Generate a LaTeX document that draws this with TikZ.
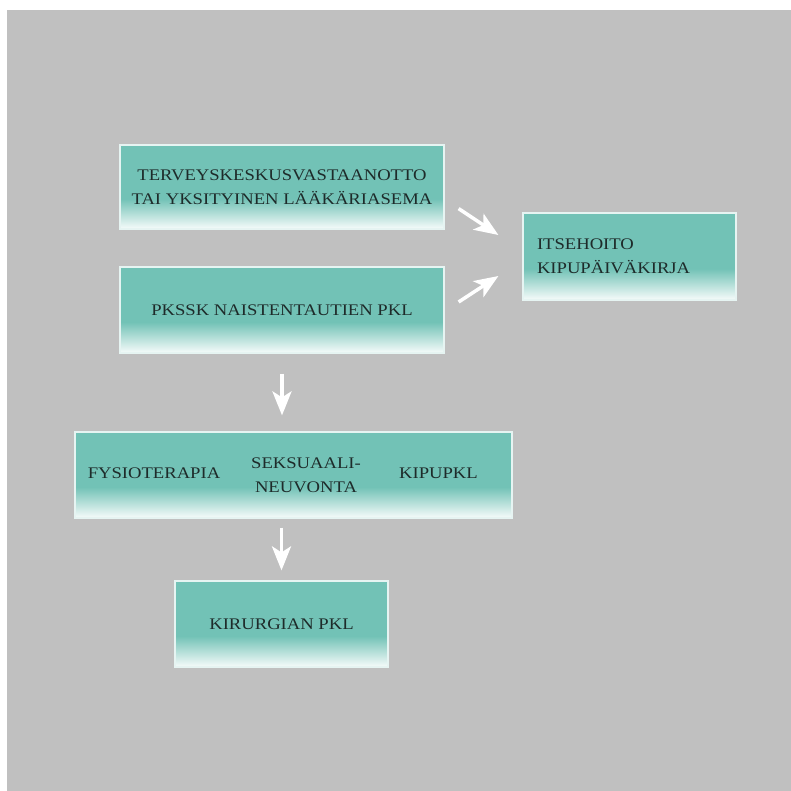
\documentclass[tikz,border=0pt]{standalone}
\usepackage{fontspec}
\setmainfont{Liberation Serif}[FakeStretch=1.15]
\usetikzlibrary{arrows.meta}

\definecolor{bggray}{HTML}{C0C0C0}
\definecolor{tealbox}{HTML}{72C2B6}
\definecolor{txtdark}{HTML}{1E2B2A}
\colorlet{fadebot}{white!94!tealbox}
\colorlet{edgecol}{white!82!tealbox}
\pgfdeclareverticalshading{boxfade}{100bp}{color(0bp)=(fadebot); color(25bp)=(fadebot); color(43bp)=(tealbox); color(100bp)=(tealbox)}

\begin{document}
\begin{tikzpicture}[
    x=1pt, y=-1pt,
    box/.style={
        draw=edgecol,
        line width=1.2pt,
        shade,
        shading=boxfade,
        text=txtdark,
        inner sep=0pt,
        align=center,
        font=\fontsize{16.2}{24}\selectfont
    },
    lbl/.style={
        text=txtdark,
        inner sep=0pt,
        align=center,
        font=\fontsize{16.2}{24}\selectfont
    },
    arr/.style={
        -{Stealth[length=24pt,width=19pt,inset=6pt]},
        white,
        line width=3.5pt
    }
]
    \fill[white] (0,0) rectangle (791,791);
    \fill[bggray] (7,10) rectangle (791,791);
    \useasboundingbox (0,0) rectangle (791,791);

    \node[box, minimum width=324pt, minimum height=84pt] (term) at (282,187)
        {TERVEYSKESKUSVASTAANOTTO\\TAI YKSITYINEN LÄÄKÄRIASEMA};

    \node[box, minimum width=324pt, minimum height=86pt] (pk) at (282,310)
        {PKSSK NAISTENTAUTIEN PKL};

    \node[box, text width=185pt, inner xsep=14pt, minimum height=87pt, align=left] (itse) at (629.5,256.5)
        {ITSEHOITO\\KIPUPÄIVÄKIRJA};

    \node[box, minimum width=437pt, minimum height=86pt] (grp) at (293.5,475) {};
    \node[lbl] (fysio) at (154,473) {FYSIOTERAPIA};
    \node[lbl] (seksu) at (306,475.5) {SEKSUAALI-\\NEUVONTA};
    \node[lbl] (kipu) at (438.5,473) {KIPUPKL};

    \node[box, minimum width=213pt, minimum height=86pt] (kir) at (281.5,624)
        {KIRURGIAN PKL};

    \draw[arr] ([xshift=14pt,yshift=21pt]term.south east) -- ([xshift=-24pt,yshift=21.5pt]itse.west);
    \draw[arr] ([xshift=14pt,yshift=8pt]pk.east) -- ([xshift=-24pt,yshift=-19.5pt]itse.west);
    \draw[arr, shorten <=20pt, shorten >=16pt] (pk.south) -- (pk.south |- grp.north);
    \draw[arr, shorten <=9pt, shorten >=10pt] (kir.north |- grp.south) -- (kir.north);

\end{tikzpicture}
\end{document}
